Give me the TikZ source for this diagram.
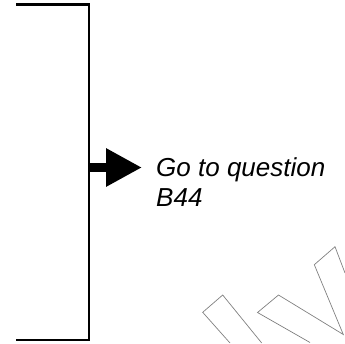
\documentclass[tikz,border=0pt]{standalone}
\usepackage{fontspec}
\setmainfont{Liberation Sans}
\usetikzlibrary{arrows.meta}
\begin{document}
\begin{tikzpicture}[x=1pt,y=-1pt,
  bracket/.style={line width=2.4pt, line join=miter},
  bigarrow/.style={line width=9.5pt, -{Triangle[length=36pt,width=36pt]}},
  label/.style={anchor=base west, inner sep=0pt, font=\fontsize{26}{30}\selectfont\itshape},
  wm/.style={draw=black!50, line width=0.7pt, line join=miter}]
\useasboundingbox (0,0) rectangle (345,343);
% bracket
\coordinate (tl) at (16,4.5);
\coordinate (tr) at (89,4.5);
\coordinate (br) at (89,340);
\coordinate (bl) at (16,340);
\draw[bracket] (tl) -- (tr) -- (br) -- (bl);
% arrow
\coordinate (astart) at (89,167.5);
\coordinate (atip) at (142,167.5);
\draw[bigarrow] (astart) -- (atip);
% text
\node[label] (q1) at (156,176) {Go to question};
\node[label] (q2) at (156,206) {B44};
% watermark outline
\draw[wm] (230,343) -- (202.7,312.3) -- (222.7,295) -- (261.7,343);
\draw[wm] (310,342.5) -- (257.5,312.5) -- (278.5,295) -- (343.3,334.5) -- (314.3,264.7) -- (335,246.7) -- (345,273);
\end{tikzpicture}
\end{document}
